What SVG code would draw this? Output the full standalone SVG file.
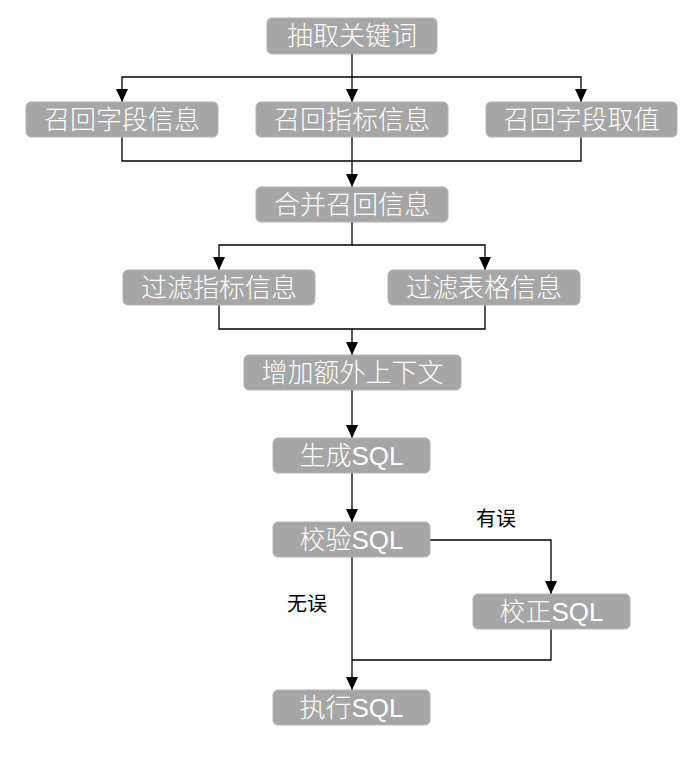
<svg xmlns="http://www.w3.org/2000/svg" width="692" height="758" viewBox="0 0 692 758">
<style>
.box{fill:#a6a6a6;stroke:#b4b4b4;stroke-width:1}
.t{fill:#fff;font-family:"Liberation Sans","Noto Sans CJK SC",sans-serif;font-size:26px;font-weight:300;text-anchor:middle}
.lbl{fill:#000;font-family:"Noto Sans CJK SC",sans-serif;font-size:20px}
.c{fill:none;stroke:#000;stroke-width:1.3}
</style>
<defs>
<marker id="arr" viewBox="0 0 13 12" refX="13" refY="6" markerWidth="13" markerHeight="12" markerUnits="userSpaceOnUse" orient="auto">
<path d="M0,0 L13,6 L0,12 z" fill="#000"/>
</marker>
</defs>
<rect width="692" height="758" fill="#fff"/>
<g id="connectors">
<path class="c" d="M352 54 V102" marker-end="url(#arr)"/>
<path class="c" d="M352 77 H122 V102" marker-end="url(#arr)"/>
<path class="c" d="M352 77 H581 V102" marker-end="url(#arr)"/>
<path class="c" d="M122 137 V161 H581 V137"/>
<path class="c" d="M352 137 V187" marker-end="url(#arr)"/>
<path class="c" d="M352 222 V245 H219 V270" marker-end="url(#arr)"/>
<path class="c" d="M352 245 H485 V270" marker-end="url(#arr)"/>
<path class="c" d="M219 305 V329 H485 V305"/>
<path class="c" d="M352 329 V355" marker-end="url(#arr)"/>
<path class="c" d="M352 390 V438" marker-end="url(#arr)"/>
<path class="c" d="M352 473 V522" marker-end="url(#arr)"/>
<path class="c" d="M430 540 H551 V594" marker-end="url(#arr)"/>
<path class="c" d="M352 557 V690" marker-end="url(#arr)"/>
<path class="c" d="M551 629 V660 H352"/>
<text class="lbl" x="476" y="526">有误</text>
<text class="lbl" x="287" y="611">无误</text>
</g>
<g id="n1"><rect class="box" x="267" y="18" width="170" height="36" rx="5"/><text class="t" x="352" y="45">抽取关键词</text></g>
<g id="n2"><rect class="box" x="26" y="102" width="192" height="35" rx="5"/><text class="t" x="122" y="128.5">召回字段信息</text></g>
<g id="n3"><rect class="box" x="256" y="102" width="192" height="35" rx="5"/><text class="t" x="352" y="128.5">召回指标信息</text></g>
<g id="n4"><rect class="box" x="486" y="102" width="191" height="35" rx="5"/><text class="t" x="581.5" y="128.5">召回字段取值</text></g>
<g id="n5"><rect class="box" x="256" y="187" width="192" height="35" rx="5"/><text class="t" x="352" y="213.5">合并召回信息</text></g>
<g id="n6"><rect class="box" x="123" y="270" width="192" height="35" rx="5"/><text class="t" x="219" y="296.5">过滤指标信息</text></g>
<g id="n7"><rect class="box" x="388" y="270" width="192" height="35" rx="5"/><text class="t" x="484" y="296.5">过滤表格信息</text></g>
<g id="n8"><rect class="box" x="244" y="355" width="217" height="35" rx="5"/><text class="t" x="352.5" y="381.5">增加额外上下文</text></g>
<g id="n9"><rect class="box" x="273" y="438" width="157" height="35" rx="5"/><text class="t" x="351.5" y="464.5">生成SQL</text></g>
<g id="n10"><rect class="box" x="273" y="522" width="157" height="35" rx="5"/><text class="t" x="351.5" y="548.5">校验SQL</text></g>
<g id="n11"><rect class="box" x="473" y="594" width="157" height="35" rx="5"/><text class="t" x="551.5" y="620.5">校正SQL</text></g>
<g id="n12"><rect class="box" x="273" y="690" width="157" height="35" rx="5"/><text class="t" x="351.5" y="716.5">执行SQL</text></g>
</svg>
